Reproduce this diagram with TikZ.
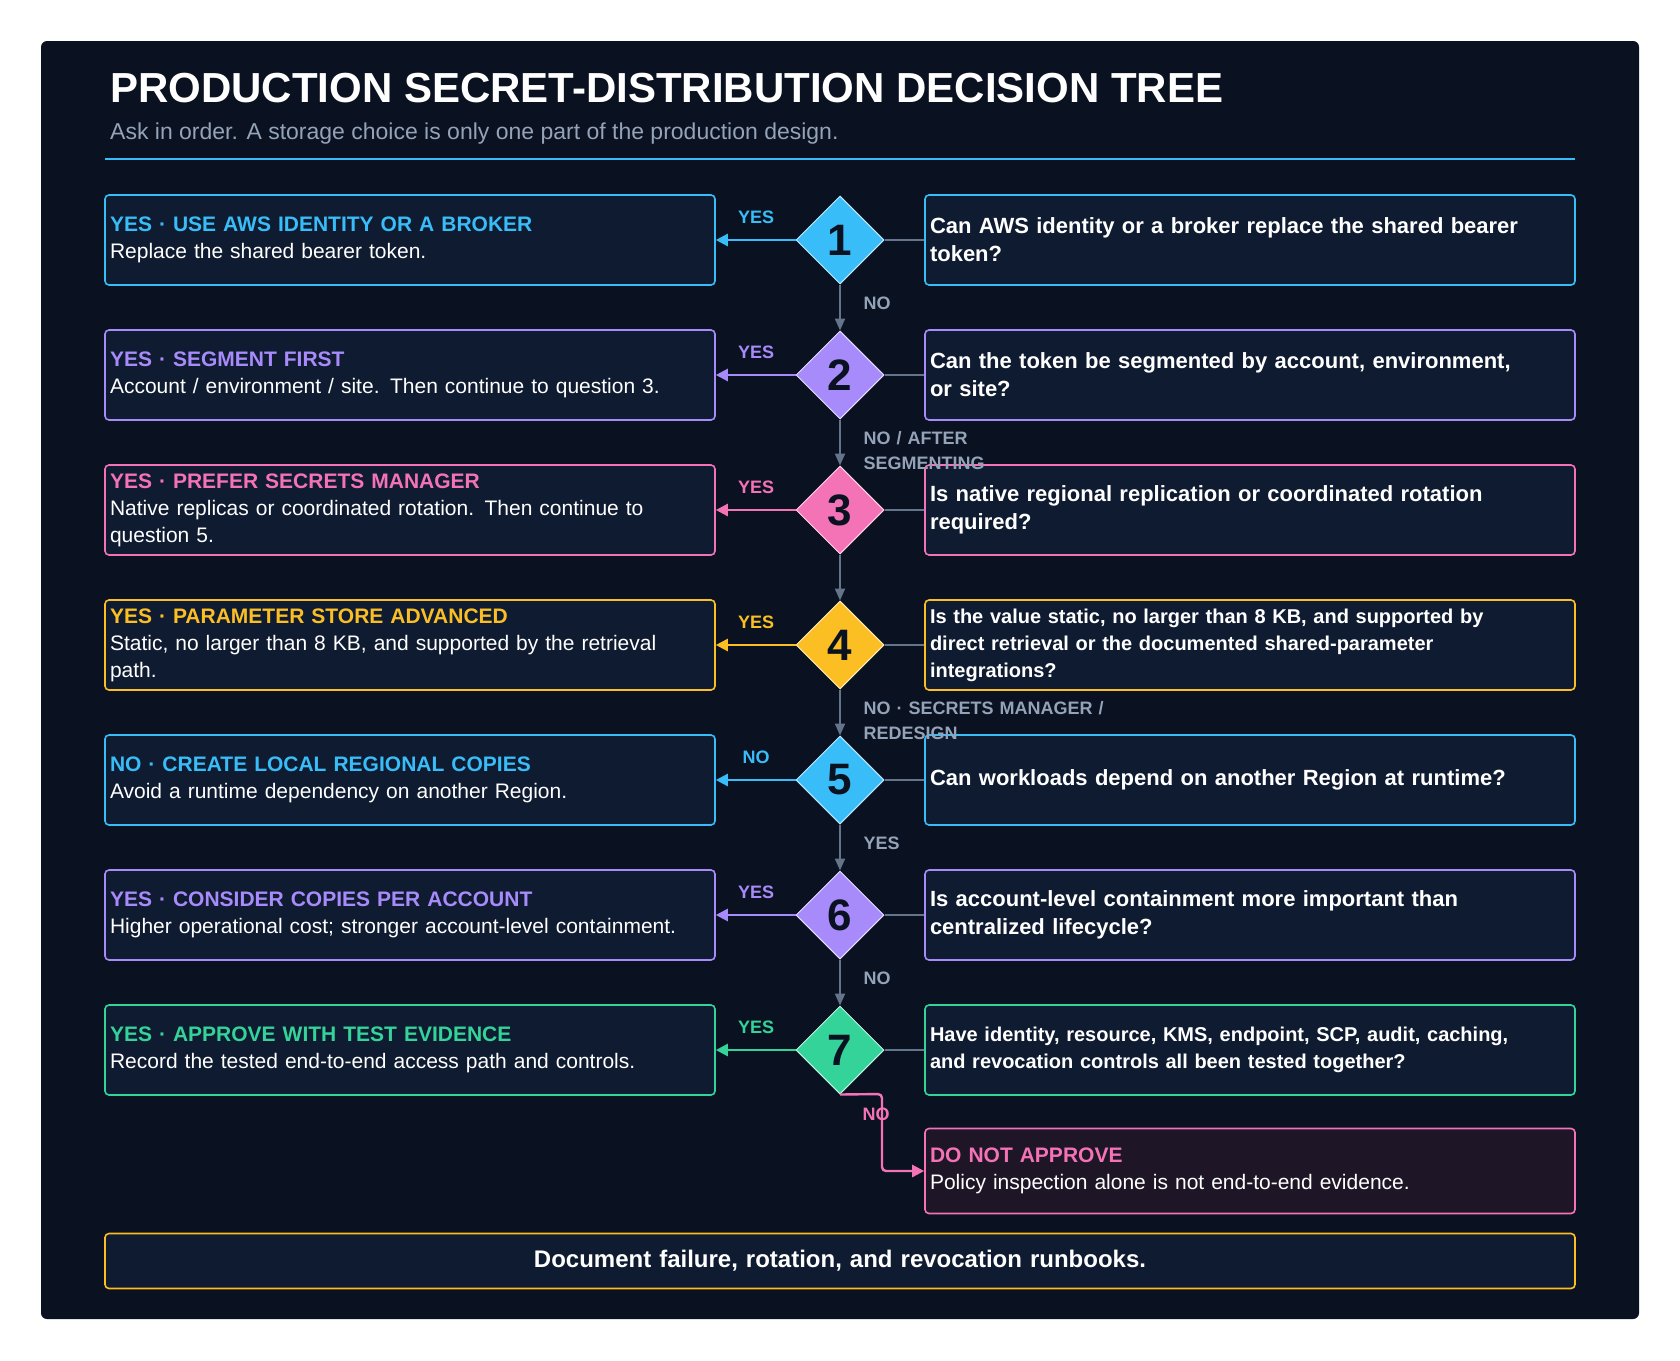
\documentclass[tikz,border=0pt]{standalone}
\usepackage{fontspec}
\setmainfont{Liberation Sans}
\usetikzlibrary{shapes.geometric,arrows.meta}
\definecolor{bg}{HTML}{0A1120}
\definecolor{boxf}{HTML}{0F1B30}
\definecolor{cy}{HTML}{38BDF8}
\definecolor{pu}{HTML}{A78BFA}
\definecolor{pk}{HTML}{F472B6}
\definecolor{ye}{HTML}{FBBF24}
\definecolor{gr}{HTML}{34D399}
\definecolor{ga}{HTML}{64748B}
\definecolor{gt}{HTML}{94A3B8}
\definecolor{redf}{HTML}{1E1626}
\tikzset{
 box/.style={draw=#1,line width=1.6pt,fill=boxf,rounded corners=4pt,minimum width=610pt,minimum height=90pt,text width=600pt,inner xsep=5pt,align=left,text=white,font=\fontsize{21}{27}\selectfont},
 qbox/.style={box=#1,minimum width=650pt,text width=640pt,font=\bfseries\fontsize{22}{28}\selectfont},
 dia/.style={diamond,aspect=1,fill=#1,draw=white!70!#1,line width=1pt,minimum width=88pt,minimum height=88pt,inner sep=0pt,text=bg,font=\bfseries\fontsize{44}{44}\selectfont},
 yarr/.style={draw=#1,line width=2.4pt,-{Triangle[length=12pt,width=12pt]}},
 narr/.style={draw=ga,line width=2pt,-{Triangle[length=12pt,width=10pt]}},
 link/.style={draw=ga,line width=1.2pt},
 ylab/.style={text=#1,font=\bfseries\fontsize{18}{18}\selectfont},
 nlab/.style={text=gt,font=\bfseries\fontsize{18}{25}\selectfont,anchor=west,align=left},
 hd/.style={text=#1,font=\bfseries}
}
\begin{document}
\begin{tikzpicture}[x=1pt,y=-1pt]
\useasboundingbox[fill=white] (0,0) rectangle (1680,1360);
\fill[bg,rounded corners=6pt] (41,41) rectangle (1639,1319);
\node[anchor=base west,text=white,font=\bfseries\fontsize{42}{42}\selectfont,inner sep=0] (title) at (110,102) {PRODUCTION SECRET-DISTRIBUTION DECISION TREE};
\node[anchor=base west,text=gt,font=\fontsize{23}{23}\selectfont,inner sep=0] (sub) at (110,139) {Ask in order. A storage choice is only one part of the production design.};
\draw[cy,line width=2.4pt] (105,159) -- (1575,159);

% row 1
\node[box=cy] (a1) at (410,240) {{\bfseries\color{cy}YES · USE AWS IDENTITY OR A BROKER}\\Replace the shared bearer token.};
\node[dia=cy] (d1) at (840,240) {1};
\node[qbox=cy] (q1) at (1250,240) {Can AWS identity or a broker replace the shared bearer\\token?};
% row 2
\node[box=pu] (a2) at (410,375) {{\bfseries\color{pu}YES · SEGMENT FIRST}\\Account / environment / site. Then continue to question 3.};
\node[dia=pu] (d2) at (840,375) {2};
\node[qbox=pu] (q2) at (1250,375) {Can the token be segmented by account, environment,\\or site?};
% row 3
\node[box=pk] (a3) at (410,510) {{\bfseries\color{pk}YES · PREFER SECRETS MANAGER}\\Native replicas or coordinated rotation. Then continue to\\question 5.};
\node[dia=pk] (d3) at (840,510) {3};
\node[qbox=pk] (q3) at (1250,510) {Is native regional replication or coordinated rotation\\required?};
% row 4
\node[box=ye] (a4) at (410,645) {{\bfseries\color{ye}YES · PARAMETER STORE ADVANCED}\\Static, no larger than 8 KB, and supported by the retrieval\\path.};
\node[dia=ye] (d4) at (840,645) {4};
\node[qbox=ye,font=\bfseries\fontsize{20}{27}\selectfont] (q4) at (1250,645) {Is the value static, no larger than 8 KB, and supported by\\direct retrieval or the documented shared-parameter\\integrations?};
% row 5
\node[box=cy] (a5) at (410,780) {{\bfseries\color{cy}NO · CREATE LOCAL REGIONAL COPIES}\\Avoid a runtime dependency on another Region.};
\node[dia=cy] (d5) at (840,780) {5};
\node[qbox=cy] (q5) at (1250,780) {Can workloads depend on another Region at runtime?};
% row 6
\node[box=pu] (a6) at (410,915) {{\bfseries\color{pu}YES · CONSIDER COPIES PER ACCOUNT}\\Higher operational cost; stronger account-level containment.};
\node[dia=pu] (d6) at (840,915) {6};
\node[qbox=pu] (q6) at (1250,915) {Is account-level containment more important than\\centralized lifecycle?};
% row 7
\node[box=gr] (a7) at (410,1050) {{\bfseries\color{gr}YES · APPROVE WITH TEST EVIDENCE}\\Record the tested end-to-end access path and controls.};
\node[dia=gr] (d7) at (840,1050) {7};
\node[qbox=gr,font=\bfseries\fontsize{20}{27}\selectfont] (q7) at (1250,1050) {Have identity, resource, KMS, endpoint, SCP, audit, caching,\\and revocation controls all been tested together?};
% do not approve
\node[box=pk,fill=redf,minimum width=650pt,text width=640pt,minimum height=85pt] (dn) at (1250,1171) {{\bfseries\color{pk}DO NOT APPROVE}\\Policy inspection alone is not end-to-end evidence.};
% footer
\node[box=ye,minimum width=1470pt,text width=1460pt,minimum height=55pt,align=center,font=\bfseries\fontsize{24}{28}\selectfont] (ft) at (840,1261) {Document failure, rotation, and revocation runbooks.};

% links
\foreach \i/\c/\l in {1/cy/YES,2/pu/YES,3/pk/YES,4/ye/YES,5/cy/NO,6/pu/YES,7/gr/YES}{
 \draw[link] (d\i.east) -- (q\i.west);
 \draw[yarr=\c] (d\i.west) -- (a\i.east);
 \node[ylab=\c] at (756,\i*135+82) {\l};
}
\draw[narr] (d1.south) -- (d2.north);
\draw[narr] (d2.south) -- (d3.north);
\draw[narr] (d3.south) -- (d4.north);
\draw[narr] (d4.south) -- (d5.north);
\draw[narr] (d5.south) -- (d6.north);
\draw[narr] (d6.south) -- (d7.north);
\node[nlab] at (860,303) {NO};
\node[nlab,text width=200pt] at (860,451) {NO / AFTER\\SEGMENTING};
\node[nlab,text width=300pt] at (860,721) {NO · SECRETS MANAGER /\\REDESIGN};
\node[nlab] at (860,843) {YES};
\node[nlab] at (860,978) {NO};
\draw[draw=pk,line width=2.4pt,rounded corners=4pt,-{Triangle[length=12pt,width=12pt]}] (d7.south) -- (882,1094) -- (882,1171) -- (dn.west);
\node[ylab=pk] at (876,1114) {NO};
\end{tikzpicture}
\end{document}
